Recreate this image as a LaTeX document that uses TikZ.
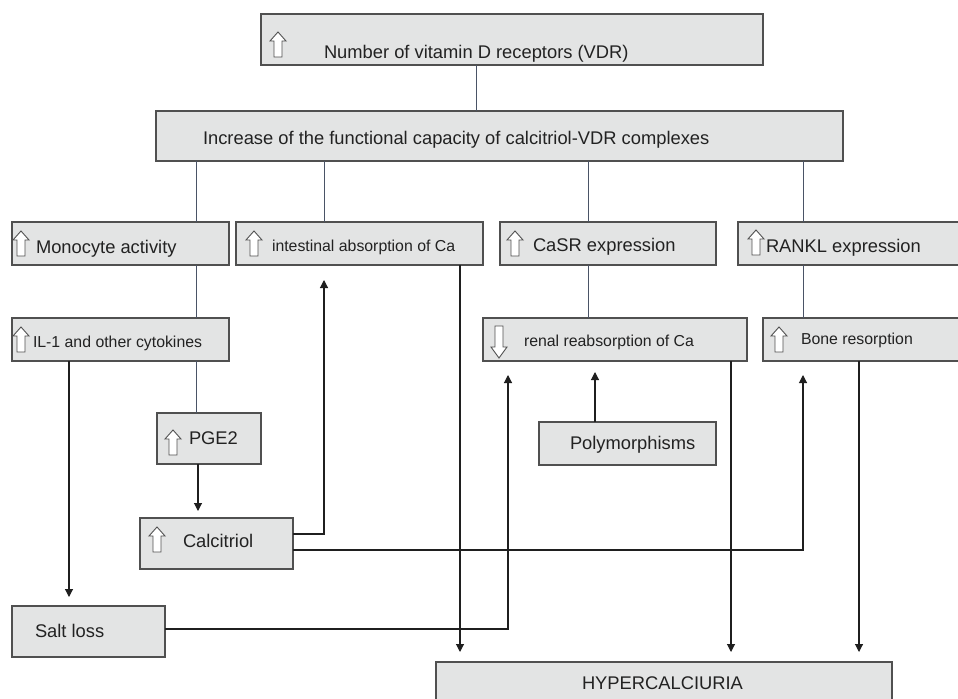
\documentclass[tikz,border=0pt]{standalone}
\usepackage{fontspec}
\setmainfont{Liberation Sans}
\usetikzlibrary{arrows.meta}
\definecolor{boxfill}{HTML}{E3E4E4}
\definecolor{boxline}{HTML}{505050}
\definecolor{lnk}{HTML}{4A5366}
\definecolor{arrc}{HTML}{1F1F1F}
\definecolor{txt}{HTML}{222222}
\newcommand\UpArr[2]{\draw[hollow] (#1,#2) ++(8,0) -- ++(8,9) -- ++(-4,0) -- ++(0,16) -- ++(-8,0) -- ++(0,-16) -- ++(-4,0) -- cycle;}
\newcommand\DownArr[2]{\draw[hollow] (#1,#2) ++(4,0) -- ++(8,0) -- ++(0,21) -- ++(4,0) -- ++(-8,11) -- ++(-8,-11) -- ++(4,0) -- cycle;}
\begin{document}
\begin{tikzpicture}[x=1bp,y=-1bp,
  box/.style={draw=boxline, fill=boxfill, line width=1.1bp, rectangle, inner sep=0, outer sep=0, anchor=north west},
  lbl/.style={anchor=base west, inner sep=0, outer sep=0, text=txt},
  big/.style={font=\fontsize{18.4}{20}\selectfont},
  small/.style={font=\fontsize{15.9}{18}\selectfont},
  link/.style={draw=lnk, line width=0.9bp},
  flow/.style={draw=arrc, line width=1.1bp, -{Triangle[width=8bp,length=8bp]}},
  hollow/.style={draw=boxline, fill=white, line width=0.9bp, line join=miter}]
\useasboundingbox (0,0) rectangle (958,699);
\clip (0,0) rectangle (958,699);
\fill[white] (0,0) rectangle (958,699);

% column coordinates
\coordinate (xa) at (476,0);
\coordinate (x196) at (196,0);
\coordinate (x198) at (198,0);
\coordinate (x324) at (324,0);
\coordinate (x588) at (588,0);
\coordinate (x803) at (803,0);
\coordinate (x69) at (69,0);
\coordinate (x508) at (508,0);
\coordinate (x595) at (595,0);
\coordinate (x460) at (460,0);
\coordinate (x731) at (731,0);
\coordinate (x859) at (859,0);

% boxes
\node[box, minimum width=502bp, minimum height=51bp] (top) at (261,14) {};
\node[box, minimum width=687bp, minimum height=50bp] (inc) at (156,111) {};
\node[box, minimum width=217bp, minimum height=43bp] (mono) at (12,222) {};
\node[box, minimum width=247bp, minimum height=43bp] (intest) at (236,222) {};
\node[box, minimum width=216bp, minimum height=43bp] (casr) at (500,222) {};
\node[box, minimum width=230bp, minimum height=43bp] (rankl) at (738,222) {};
\node[box, minimum width=217bp, minimum height=43bp] (il1) at (12,318) {};
\node[box, minimum width=264bp, minimum height=43bp] (renal) at (483,318) {};
\node[box, minimum width=205bp, minimum height=43bp] (bone) at (763,318) {};
\node[box, minimum width=104bp, minimum height=51bp] (pge2) at (157,413) {};
\node[box, minimum width=153bp, minimum height=51bp] (calc) at (140,518) {};
\node[box, minimum width=177bp, minimum height=43bp] (poly) at (539,422) {};
\node[box, minimum width=153bp, minimum height=51bp] (salt) at (12,606) {};
\node[box, minimum width=456bp, minimum height=60bp] (hyper) at (436,662) {};

% plain links
\draw[link] (top.south -| xa) -- (inc.north -| xa);
\draw[link] (inc.south -| x196) -- (mono.north -| x196);
\draw[link] (inc.south -| x324) -- (intest.north -| x324);
\draw[link] (inc.south -| x588) -- (casr.north -| x588);
\draw[link] (inc.south -| x803) -- (rankl.north -| x803);
\draw[link] (mono.south -| x196) -- (il1.north -| x196);
\draw[link] (casr.south -| x588) -- (renal.north -| x588);
\draw[link] (rankl.south -| x803) -- (bone.north -| x803);
\draw[link] (il1.south -| x196) -- (pge2.north -| x196);

% arrows
\draw[flow, shorten >=7bp] (pge2.south -| x198) -- (calc.north -| x198);
\draw[flow, shorten >=9bp] (il1.south -| x69) -- (salt.north -| x69);
\draw[flow, shorten >=15bp] ([yshift=9.5bp]calc.east) -| (intest.south -| x324);
\draw[flow, shorten >=14bp] ([yshift=-6.5bp]calc.east) -| (bone.south -| x803);
\draw[flow, shorten >=14bp] ([yshift=2.5bp]salt.east) -| (renal.south -| x508);
\draw[flow, shorten >=11bp] (poly.north -| x595) -- (renal.south -| x595);
\draw[flow, shorten >=10bp] (intest.south -| x460) -- (hyper.north -| x460);
\draw[flow, shorten >=10bp] (renal.south -| x731) -- (hyper.north -| x731);
\draw[flow, shorten >=10bp] (bone.south -| x859) -- (hyper.north -| x859);

% hollow arrows
\UpArr{270}{32}
\UpArr{13}{231}
\UpArr{246}{231}
\UpArr{507}{231}
\UpArr{748}{230}
\UpArr{13}{327}
\UpArr{771}{327}
\UpArr{165}{430}
\UpArr{149}{527}
\DownArr{491}{326}

% labels
\node[lbl, big] (ttop) at (324,59) {Number of vitamin D receptors (VDR)};
\node[lbl, big] (tinc) at (203,145) {Increase of the functional capacity of calcitriol-VDR complexes};
\node[lbl, big] (tmono) at (36,253) {Monocyte activity};
\node[lbl, small] (tint) at (272,251) {intestinal absorption of Ca};
\node[lbl, big] (tcasr) at (533,251) {CaSR expression};
\node[lbl, big] (trankl) at (766,252) {RANKL expression};
\node[lbl, small] (til1) at (33,347) {IL-1 and other cytokines};
\node[lbl, small] (trenal) at (524,346) {renal reabsorption of Ca};
\node[lbl, small] (tbone) at (801,344) {Bone resorption};
\node[lbl, big] (tpge) at (189,444) {PGE2};
\node[lbl, big] (tcalc) at (183,547) {Calcitriol};
\node[lbl, big] (tsalt) at (35,637) {Salt loss};
\node[lbl, big] (tpoly) at (570,449) {Polymorphisms};
\node[lbl, big] (thyper) at (582,689) {HYPERCALCIURIA};
\end{tikzpicture}
\end{document}
